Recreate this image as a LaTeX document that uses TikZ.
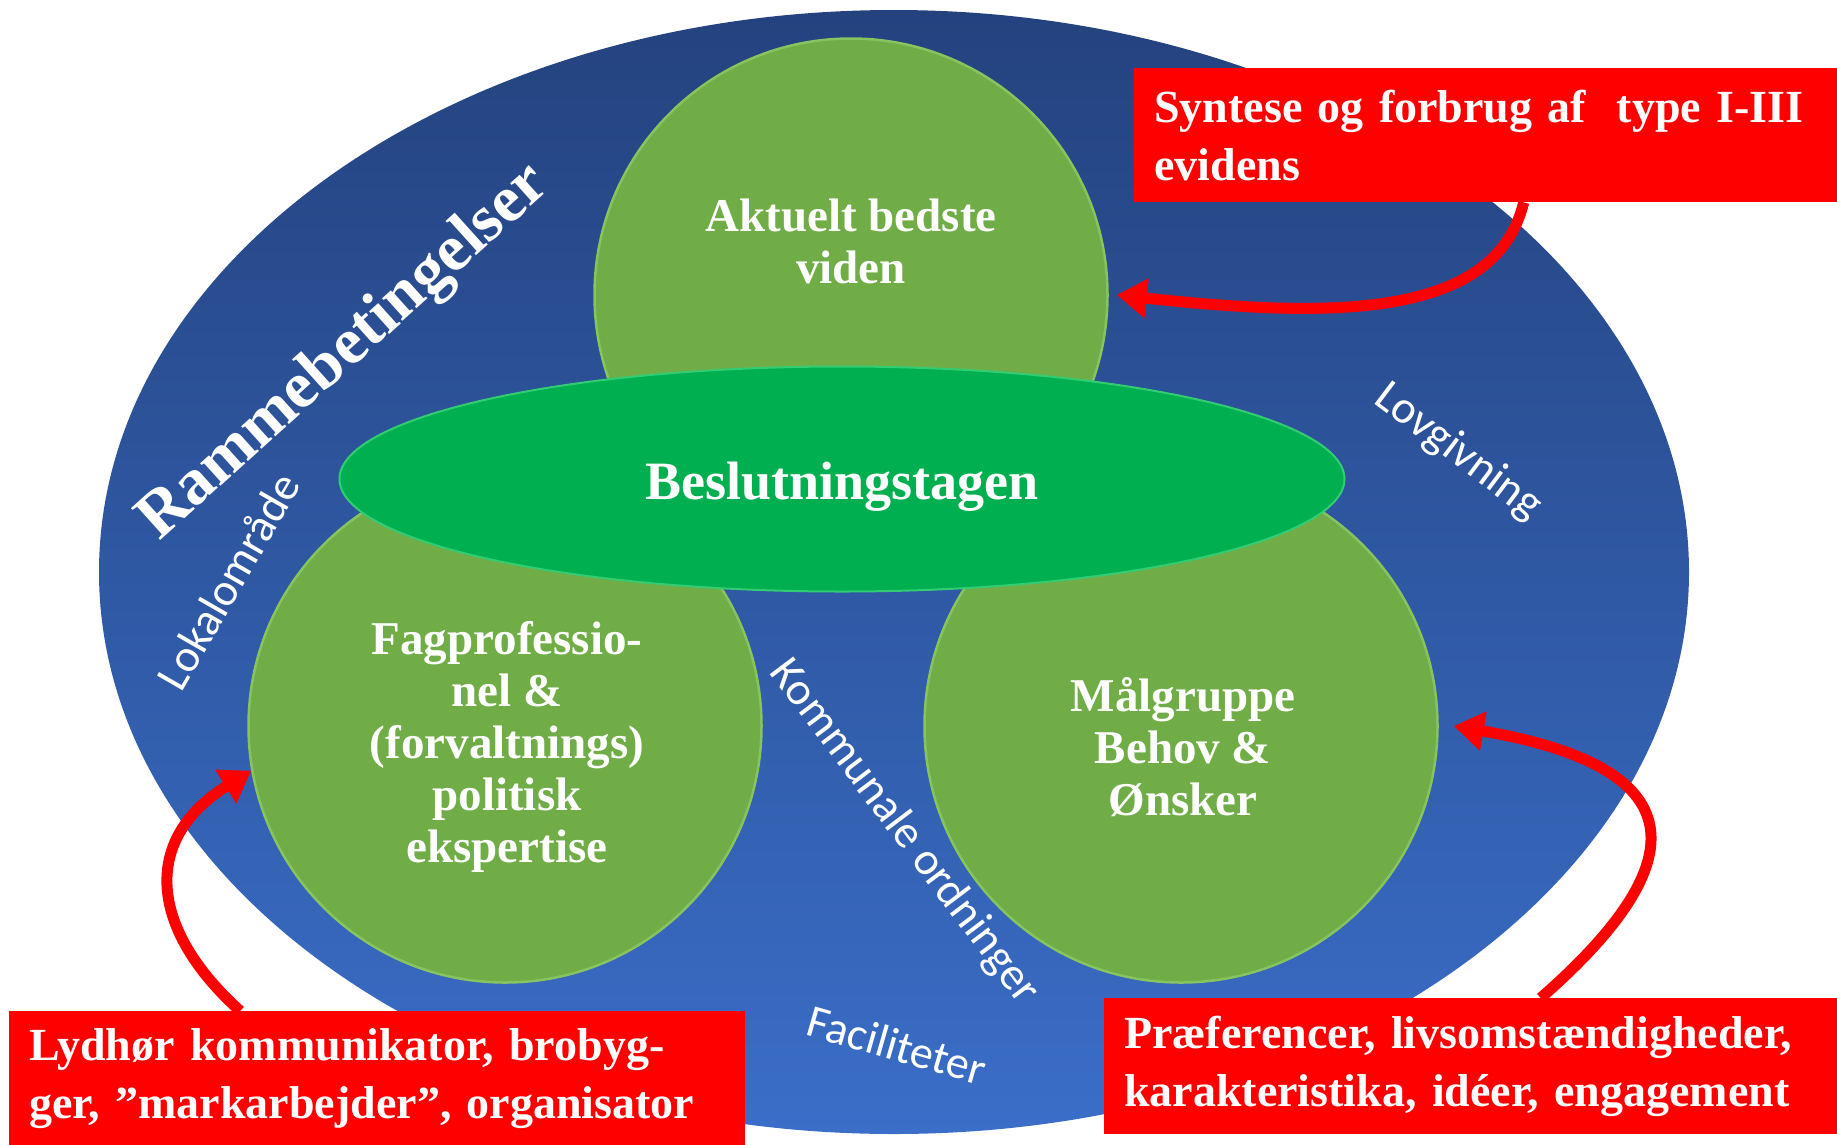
\documentclass[tikz,border=0pt]{standalone}
\usepackage{fontspec}
\setmainfont{Liberation Serif}
\newfontfamily\calibri{Carlito}
\usetikzlibrary{arrows.meta,shapes.geometric}

\definecolor{darkblue}{RGB}{36,66,126}
\definecolor{lightblue}{RGB}{58,110,200}
\definecolor{leafgreen}{RGB}{112,173,71}
\definecolor{rimgreen}{RGB}{135,195,95}
\definecolor{decgreen}{RGB}{0,176,80}
\definecolor{decrim}{RGB}{50,205,115}
\definecolor{boxred}{RGB}{255,0,0}

\begin{document}
\begin{tikzpicture}[x=1pt,y=-1pt,
    pillar/.style={circle,fill=leafgreen,draw=rimgreen,line width=2.5pt,minimum size=513pt,inner sep=0pt},
    caption/.style={text=white,align=center,font=\fontsize{47}{52}\selectfont\bfseries},
    sidelabel/.style={text=white,font=\calibri\fontsize{46}{50}\selectfont},
    callout/.style={fill=boxred,text=white,anchor=north west,align=left,inner xsep=20pt,font=\fontsize{46}{58}\selectfont\bfseries},
    pointer/.style={draw=boxred,line width=11pt,-{Triangle[length=30pt,width=38pt]}}]

  \useasboundingbox (0,0) rectangle (1837,1144);

  \node[ellipse,minimum width=1590pt,minimum height=1124pt,inner sep=0pt,top color=darkblue,bottom color=lightblue] (frame) at (894,572) {};

  \node[pillar] (best)   at (851,295)  {};
  \node[pillar] (expert) at (505,726)  {};
  \node[pillar] (needs)  at (1181,726) {};

  \node[caption] (besttxt)   at (851,241)  {Aktuelt bedste\\viden};
  \node[caption] (experttxt) at (507,747)  {Fagprofessio-\\nel \&\\(forvaltnings)\\politisk\\ekspertise};
  \node[caption] (needstxt)  at (1183,747) {Målgruppe\\Behov \&\\Ønsker};

  \node[ellipse,fill=decgreen,draw=decrim,line width=2pt,minimum width=1005pt,minimum height=225pt,
        text=white,text height=52pt,text depth=12pt,font=\fontsize{54}{60}\selectfont\bfseries] (decision) at (842,479) {Beslutningstagen};

  \node[text=white,rotate=42,font=\fontsize{66}{72}\selectfont\bfseries] (frametitle) at (345,353) {Rammebetingelser};
  \node[sidelabel,rotate=60]  (local)  at (228,581)  {Lokalområde};
  \node[sidelabel,rotate=-37] (law)    at (1458,452) {Lovgivning};
  \node[sidelabel,rotate=-53] (munic)  at (904,832)  {Kommunale ordninger};
  \node[sidelabel,rotate=-16] (facil)  at (897,1045) {Faciliteter};

  \node[callout,text width=663pt,minimum height=134pt] (evid) at (1134,68)  {Syntese og forbrug af\ \ type I-III\\evidens};
  \node[callout,text width=696pt,minimum height=134pt] (lydh) at (9,1011)   {Lydhør kommunikator, brobyg-\\ger, ”markarbejder”, organisator};
  \node[callout,text width=693pt,minimum height=136pt] (pref) at (1104,998) {Præferencer, livsomstændigheder,\\karakteristika, idéer, engagement};

  \draw[pointer] ([xshift=38pt]evid.south) .. controls (1495,320) and (1330,318) .. ([xshift=8pt]best.east);
  \draw[pointer] ([xshift=-137pt]lydh.north) .. controls (150,930) and (140,840) .. (expert.190);
  \draw[pointer] ([xshift=70pt]pref.north) .. controls (1710,850) and (1680,765) .. ([xshift=15pt]needs.east);
\end{tikzpicture}
\end{document}
